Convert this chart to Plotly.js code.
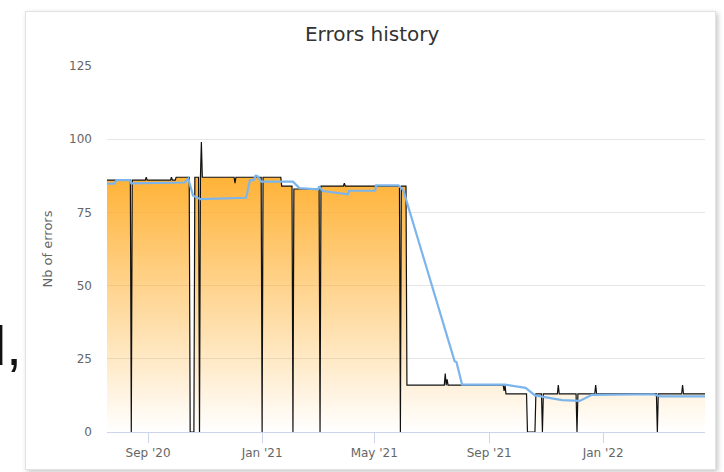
<!DOCTYPE html>
<html><head><meta charset="utf-8">
<script src="https://cdn.plot.ly/plotly-3.0.1.min.js"></script>
<style>
html,body{margin:0;padding:0;background:#fff;width:724px;height:472px;overflow:hidden}
#card{position:absolute;left:25px;top:11px;width:689px;height:457px;background:#fff;border:1px solid #e2e2e2;box-shadow:2px 2px 5px rgba(0,0,0,0.22)}
#chart{position:absolute;left:0;top:0;width:724px;height:472px}
</style></head><body>
<div id="card"></div><div id="chart"></div>
<script>
// Daily error count (black line, orange area)
const errorDates = [
 '2020-07-19','2020-08-13','2020-08-14','2020-08-15','2020-08-29','2020-08-30','2020-08-31',
 '2020-09-25','2020-09-26','2020-09-27','2020-09-30','2020-10-01','2020-10-15','2020-10-16',
 '2020-10-20','2020-10-21','2020-10-25','2020-10-26','2020-10-27','2020-10-28','2020-10-29',
 '2020-12-02','2020-12-03','2020-12-04','2020-12-31','2021-01-01','2021-01-02','2021-01-21',
 '2021-01-22','2021-02-02','2021-02-03','2021-02-04','2021-03-03','2021-03-04','2021-03-05',
 '2021-03-29','2021-03-30','2021-03-31','2021-05-28','2021-05-29','2021-05-30','2021-06-04',
 '2021-06-05','2021-07-15','2021-07-16','2021-07-17','2021-07-18','2021-07-19','2021-09-16',
 '2021-09-17','2021-09-18','2021-09-19','2021-10-11','2021-10-12','2021-10-20','2021-10-21',
 '2021-10-27','2021-10-28','2021-10-29','2021-11-13','2021-11-14','2021-11-15','2021-12-03',
 '2021-12-04','2021-12-05','2021-12-23','2021-12-24','2021-12-25','2022-02-27','2022-02-28',
 '2022-03-01','2022-03-26','2022-03-27','2022-03-28','2022-04-20'
];
const errorCounts = [
 86,86,0,86,86,87,86,
 86,87,86,86,87,87,0,
 0,87,87,0,87,99,87,
 87,85,87,87,0,87,87,
 84,84,0,83,83,0,84,
 84,85,84,84,0,84,84,
 16,16,20,16,18,16,16,
 14,16,13,13,0,0,13,
 13,0,13,13,16,13,13,
 0,13,13,16,13,13,0,
 13,13,16,13,13
];
// Smoothed trend (blue line)
const trendDates = [
 '2020-07-19','2020-07-27','2020-07-29','2020-08-12','2020-08-14','2020-10-10','2020-10-14',
 '2020-10-19','2020-10-27','2020-12-15','2020-12-19','2020-12-23','2020-12-25','2020-12-27',
 '2020-12-31','2021-02-03','2021-02-10','2021-03-02','2021-03-03','2021-03-07','2021-04-03',
 '2021-04-04','2021-05-02','2021-05-03','2021-05-27','2021-06-01','2021-07-26','2021-07-28',
 '2021-08-03','2021-09-18','2021-10-10','2021-10-20','2021-11-18','2021-12-07','2021-12-20',
 '2022-02-24','2022-03-03','2022-04-20'
];
const trendValues = [
 84.8,84.8,86,86,84.9,85.2,86.5,
 80.8,79.5,80,86,86,87.5,87.4,
 85.5,85.5,83.3,82.9,83.9,82.3,81.2,
 82.4,82.4,84.2,84.2,82.7,24.2,23.9,
 16.2,16.2,15.1,12.5,10.9,10.6,12.7,
 12.9,12.2,12.2
];
const tickDates = ['2020-09-01','2021-01-01','2021-05-01','2021-09-01','2022-01-01'];
const tickLabels = ["Sep '20","Jan '21","May '21","Sep '21","Jan '22"];
const yTicks = [0,25,50,75,100,125];

const FONT = 'DejaVu Sans, Verdana, sans-serif';

const traces = [
 {
  type:'scatter', mode:'lines', x:errorDates, y:errorCounts,
  line:{color:'#111111', width:1.2},
  fill:'tozeroy',
  fillgradient:{type:'vertical', start:0, stop:99,
    colorscale:[[0,'rgba(255,168,28,0.0)'],[1,'rgba(255,168,28,1)']]},
  hoverinfo:'skip', showlegend:false
 },
 {
  type:'scatter', mode:'lines', x:trendDates, y:trendValues,
  line:{color:'#7cb5ec', width:2.2},
  hoverinfo:'skip', showlegend:false
 }
];

const layout = {
 width:724, height:472,
 margin:{l:107, r:19, t:66, b:40},
 paper_bgcolor:'rgba(0,0,0,0)', plot_bgcolor:'rgba(0,0,0,0)',
 font:{family:FONT, color:'#666666', size:12},
 title:{text:'Errors history', font:{family:FONT, size:20, color:'#333333'},
        x:0.514, xref:'container', xanchor:'center', y:0.928, yref:'container', yanchor:'middle'},
 xaxis:{type:'date', range:['2020-07-19','2022-04-20'],
        tickvals:tickDates, ticktext:tickLabels,
        showgrid:false, zeroline:false,
        showline:true, linecolor:'#ccd6eb', linewidth:1,
        ticks:'outside', ticklen:10, tickcolor:'#ccd6eb', tickwidth:1,
        tickfont:{family:FONT, size:12, color:'#666666'}},
 yaxis:{range:[0,125], tickvals:yTicks, ticktext:yTicks.map(String),
        showgrid:true, gridcolor:'#e6e6e6', gridwidth:1, zeroline:false, showline:false,
        ticks:'', ticklabelstandoff:14,
        tickfont:{family:FONT, size:12, color:'#666666'},
        title:{text:'Nb of errors', standoff:13, font:{family:FONT, size:13, color:'#666666'}}},
 annotations:[
  {text:'d,', xref:'paper', yref:'paper', x:(24-107)/598, y:0.235, xanchor:'right', yanchor:'middle',
   showarrow:false, font:{family:'Liberation Sans, Arial, sans-serif', size:56, color:'#111111'}}
 ]
};

Plotly.newPlot('chart', traces, layout, {staticPlot:true, displayModeBar:false});
</script>
</body></html>
